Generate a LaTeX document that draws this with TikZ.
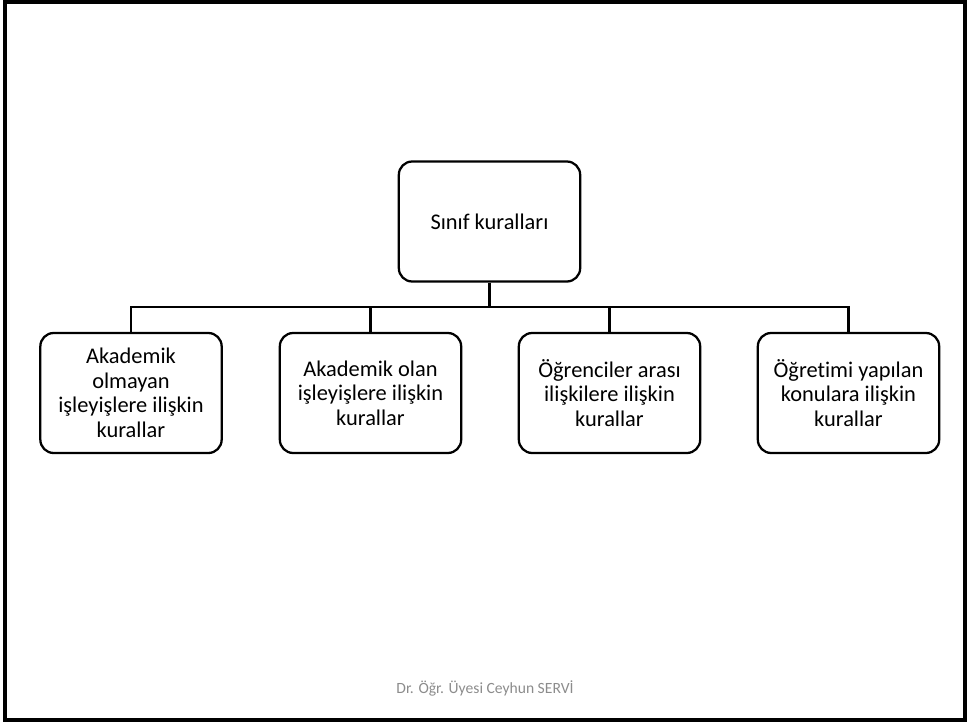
\documentclass[tikz,border=0pt]{standalone}
\usepackage{fontspec}
\setmainfont[Ligatures=NoCommon]{Carlito}
\begin{document}
\begin{tikzpicture}[x=0.75pt,y=-0.75pt,
    rulebox/.style={draw,line width=1.7pt,rounded corners=10pt,align=center,
      minimum width=136pt,minimum height=90pt,inner sep=2pt,
      font=\fontsize{16.8}{18.4}\selectfont},
    link/.style={line width=1.7pt}]
  \useasboundingbox (0,0) rectangle (970,724);
  \draw[line width=3pt] (5,2) rectangle (965,720);
  % top
  \node[rulebox] (sinif) at (489.5,221.5) {Sınıf kuralları};
  % children
  \node[rulebox] (akdmdisi) at (131,393) {Akademik\\olmayan\\işleyişlere ilişkin\\kurallar};
  \node[rulebox] (akdm) at (370.5,393) {Akademik olan\\işleyişlere ilişkin\\kurallar};
  \node[rulebox] (ogrenci) at (609.5,393) {Öğrenciler arası\\ilişkilere ilişkin\\kurallar};
  \node[rulebox] (konu) at (848.5,393) {Öğretimi yapılan\\konulara ilişkin\\kurallar};
  \coordinate (bus) at (489.5,307);
  \draw[line width=2.6pt] (sinif.south) -- (bus);
  \draw[link] (bus) -| (akdmdisi.north);
  \draw[link] (bus) -| (akdm.north);
  \draw[link] (bus) -| (ogrenci.north);
  \draw[link] (bus) -| (konu.north);
  \node[text=black!45,font=\fontsize{11.7}{14}\selectfont] (yazar) at (485,688) {Dr. Öğr. Üyesi Ceyhun SERVİ};
\end{tikzpicture}
\end{document}
